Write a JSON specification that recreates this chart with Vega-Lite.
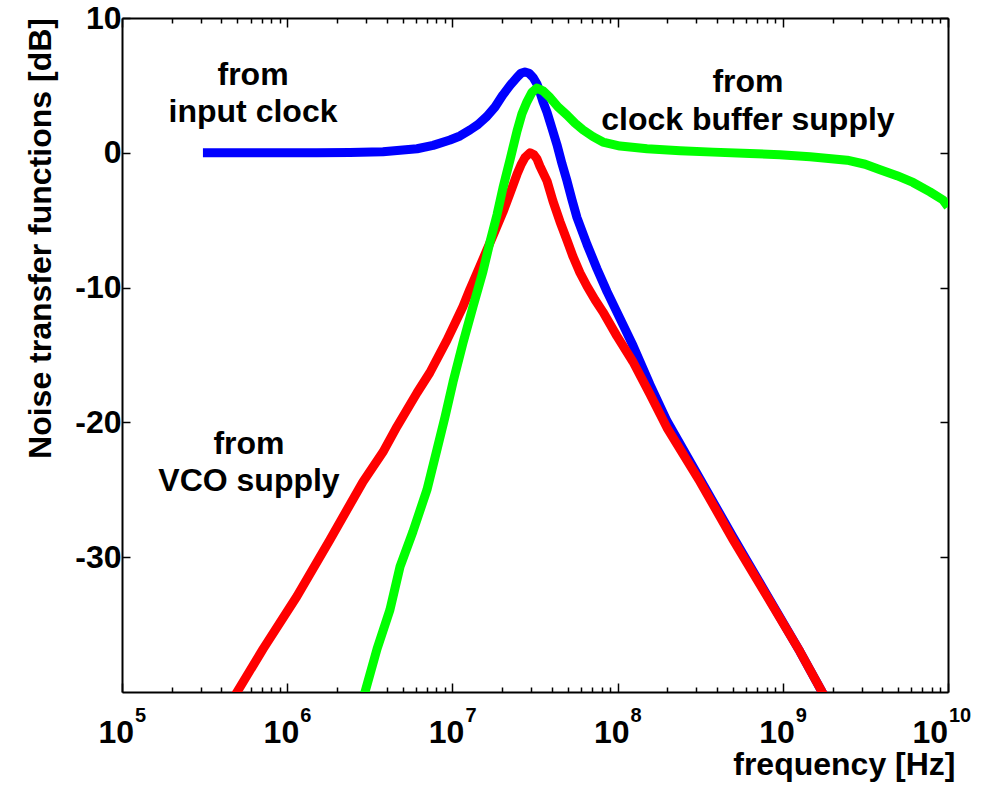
{
  "$schema": "https://vega.github.io/schema/vega-lite/v6.json",
  "width": 826,
  "height": 674,
  "autosize": "none",
  "padding": {"left": 122, "top": 18, "right": 54, "bottom": 93},
  "background": "white",
  "config": {
    "view": {"stroke": null},
    "font": "Liberation Sans",
    "axis": {
      "grid": false,
      "domainColor": "black",
      "domainWidth": 2,
      "tickColor": "black",
      "tickWidth": 1.5,
      "labelColor": "black",
      "titleColor": "black",
      "labelFont": "Liberation Sans",
      "titleFont": "Liberation Sans",
      "labelFontWeight": "bold",
      "titleFontWeight": "bold",
      "labelFontSize": 32,
      "titleFontSize": 32,
      "zindex": 1
    }
  },
  "datasets": {
    "curves": [
      {"s": "input", "f": 3.09e5, "db": 0},
      {"s": "input", "f": 5.96e5, "db": 0},
      {"s": "input", "f": 1.51e6, "db": 0},
      {"s": "input", "f": 2.40e6, "db": 0.03},
      {"s": "input", "f": 3.80e6, "db": 0.08},
      {"s": "input", "f": 6.11e6, "db": 0.3},
      {"s": "input", "f": 7.64e6, "db": 0.55},
      {"s": "input", "f": 9.66e6, "db": 0.95},
      {"s": "input", "f": 1.112e7, "db": 1.25},
      {"s": "input", "f": 1.279e7, "db": 1.7},
      {"s": "input", "f": 1.429e7, "db": 2.1},
      {"s": "input", "f": 1.618e7, "db": 2.7},
      {"s": "input", "f": 1.811e7, "db": 3.4},
      {"s": "input", "f": 2.023e7, "db": 4.3},
      {"s": "input", "f": 2.234e7, "db": 5.0},
      {"s": "input", "f": 2.46e7, "db": 5.6},
      {"s": "input", "f": 2.60e7, "db": 5.9},
      {"s": "input", "f": 2.748e7, "db": 6.0},
      {"s": "input", "f": 2.911e7, "db": 5.9},
      {"s": "input", "f": 3.076e7, "db": 5.6},
      {"s": "input", "f": 3.251e7, "db": 5.1},
      {"s": "input", "f": 3.388e7, "db": 4.5},
      {"s": "input", "f": 3.532e7, "db": 3.8},
      {"s": "input", "f": 3.741e7, "db": 3.0},
      {"s": "input", "f": 4.009e7, "db": 1.8},
      {"s": "input", "f": 4.295e7, "db": 0.6},
      {"s": "input", "f": 4.603e7, "db": -0.8},
      {"s": "input", "f": 4.943e7, "db": -2.1},
      {"s": "input", "f": 5.297e7, "db": -3.5},
      {"s": "input", "f": 5.675e7, "db": -4.8},
      {"s": "input", "f": 6.531e7, "db": -6.8},
      {"s": "input", "f": 7.499e7, "db": -8.6},
      {"s": "input", "f": 8.630e7, "db": -10.3},
      {"s": "input", "f": 1.035e8, "db": -12.3},
      {"s": "input", "f": 1.239e8, "db": -14.3},
      {"s": "input", "f": 1.570e8, "db": -17.2},
      {"s": "input", "f": 1.991e8, "db": -19.9},
      {"s": "input", "f": 3.155e8, "db": -24.2},
      {"s": "input", "f": 5.0e8, "db": -28.5},
      {"s": "input", "f": 8.02e8, "db": -32.8},
      {"s": "input", "f": 1.27e9, "db": -37.0},
      {"s": "input", "f": 1.73e9, "db": -40.0},
      {"s": "input", "f": 1.83e9, "db": -40.5},

      {"s": "vco", "f": 4.70e5, "db": -40.5},
      {"s": "vco", "f": 4.97e5, "db": -40.0},
      {"s": "vco", "f": 7.15e5, "db": -36.8},
      {"s": "vco", "f": 1.146e6, "db": -32.9},
      {"s": "vco", "f": 1.815e6, "db": -28.7},
      {"s": "vco", "f": 2.877e6, "db": -24.4},
      {"s": "vco", "f": 3.80e6, "db": -22.2},
      {"s": "vco", "f": 4.624e6, "db": -20.3},
      {"s": "vco", "f": 6.11e6, "db": -17.8},
      {"s": "vco", "f": 7.31e6, "db": -16.3},
      {"s": "vco", "f": 9.27e6, "db": -13.9},
      {"s": "vco", "f": 1.159e7, "db": -11.4},
      {"s": "vco", "f": 1.279e7, "db": -10.1},
      {"s": "vco", "f": 1.469e7, "db": -8.4},
      {"s": "vco", "f": 1.618e7, "db": -7.2},
      {"s": "vco", "f": 1.811e7, "db": -5.8},
      {"s": "vco", "f": 2.023e7, "db": -4.4},
      {"s": "vco", "f": 2.234e7, "db": -3.0},
      {"s": "vco", "f": 2.46e7, "db": -1.6},
      {"s": "vco", "f": 2.60e7, "db": -0.9},
      {"s": "vco", "f": 2.748e7, "db": -0.35},
      {"s": "vco", "f": 2.951e7, "db": 0.0},
      {"s": "vco", "f": 3.119e7, "db": -0.15},
      {"s": "vco", "f": 3.251e7, "db": -0.45},
      {"s": "vco", "f": 3.388e7, "db": -1.0},
      {"s": "vco", "f": 3.741e7, "db": -2.1},
      {"s": "vco", "f": 4.064e7, "db": -3.6},
      {"s": "vco", "f": 4.477e7, "db": -5.1},
      {"s": "vco", "f": 4.943e7, "db": -6.5},
      {"s": "vco", "f": 5.370e7, "db": -7.7},
      {"s": "vco", "f": 5.916e7, "db": -8.9},
      {"s": "vco", "f": 6.531e7, "db": -9.9},
      {"s": "vco", "f": 7.295e7, "db": -10.9},
      {"s": "vco", "f": 8.147e7, "db": -11.8},
      {"s": "vco", "f": 9.908e7, "db": -13.6},
      {"s": "vco", "f": 1.239e8, "db": -15.5},
      {"s": "vco", "f": 1.570e8, "db": -17.9},
      {"s": "vco", "f": 1.991e8, "db": -20.4},
      {"s": "vco", "f": 3.155e8, "db": -24.4},
      {"s": "vco", "f": 5.0e8, "db": -28.7},
      {"s": "vco", "f": 8.02e8, "db": -32.9},
      {"s": "vco", "f": 1.27e9, "db": -37.0},
      {"s": "vco", "f": 1.73e9, "db": -40.0},
      {"s": "vco", "f": 1.83e9, "db": -40.5},

      {"s": "buffer", "f": 2.84e6, "db": -40.5},
      {"s": "buffer", "f": 2.958e6, "db": -40.0},
      {"s": "buffer", "f": 3.499e6, "db": -36.8},
      {"s": "buffer", "f": 4.188e6, "db": -33.9},
      {"s": "buffer", "f": 4.82e6, "db": -30.7},
      {"s": "buffer", "f": 5.768e6, "db": -28.1},
      {"s": "buffer", "f": 7.015e6, "db": -25.0},
      {"s": "buffer", "f": 8.07e6, "db": -22.0},
      {"s": "buffer", "f": 9.02e6, "db": -19.6},
      {"s": "buffer", "f": 1.009e7, "db": -17.0},
      {"s": "buffer", "f": 1.159e7, "db": -14.1},
      {"s": "buffer", "f": 1.333e7, "db": -11.4},
      {"s": "buffer", "f": 1.531e7, "db": -8.8},
      {"s": "buffer", "f": 1.69e7, "db": -6.6},
      {"s": "buffer", "f": 1.862e7, "db": -4.6},
      {"s": "buffer", "f": 2.023e7, "db": -2.6},
      {"s": "buffer", "f": 2.234e7, "db": -0.5},
      {"s": "buffer", "f": 2.46e7, "db": 1.6},
      {"s": "buffer", "f": 2.636e7, "db": 2.9},
      {"s": "buffer", "f": 2.831e7, "db": 3.8},
      {"s": "buffer", "f": 3.034e7, "db": 4.5},
      {"s": "buffer", "f": 3.251e7, "db": 4.8},
      {"s": "buffer", "f": 3.532e7, "db": 4.6},
      {"s": "buffer", "f": 3.899e7, "db": 4.1},
      {"s": "buffer", "f": 4.355e7, "db": 3.4},
      {"s": "buffer", "f": 4.943e7, "db": 2.8},
      {"s": "buffer", "f": 5.521e7, "db": 2.2},
      {"s": "buffer", "f": 6.176e7, "db": 1.7},
      {"s": "buffer", "f": 7.096e7, "db": 1.2},
      {"s": "buffer", "f": 8.147e7, "db": 0.8},
      {"s": "buffer", "f": 1.035e8, "db": 0.5},
      {"s": "buffer", "f": 1.507e8, "db": 0.3},
      {"s": "buffer", "f": 2.39e8, "db": 0.15},
      {"s": "buffer", "f": 3.78e8, "db": 0.05},
      {"s": "buffer", "f": 6.32e8, "db": -0.05},
      {"s": "buffer", "f": 9.61e8, "db": -0.15},
      {"s": "buffer", "f": 1.462e9, "db": -0.3},
      {"s": "buffer", "f": 2.45e9, "db": -0.55},
      {"s": "buffer", "f": 3.15e9, "db": -0.85},
      {"s": "buffer", "f": 3.88e9, "db": -1.26},
      {"s": "buffer", "f": 4.91e9, "db": -1.7},
      {"s": "buffer", "f": 6.14e9, "db": -2.2},
      {"s": "buffer", "f": 7.78e9, "db": -2.9},
      {"s": "buffer", "f": 9.33e9, "db": -3.5},
      {"s": "buffer", "f": 1.0e10, "db": -4.0}
    ],
    "notes": [
      {"t": "from", "f": 6.21e5, "db": 5.04},
      {"t": "input clock", "f": 6.21e5, "db": 2.30},
      {"t": "from", "f": 6.15e8, "db": 4.52},
      {"t": "clock buffer supply", "f": 6.15e8, "db": 1.70},
      {"t": "from", "f": 5.87e5, "db": -22.37},
      {"t": "VCO supply", "f": 5.87e5, "db": -25.11}
    ],
    "xticks": [
      {"f": 1e5, "e": "5"},
      {"f": 1e6, "e": "6"},
      {"f": 1e7, "e": "7"},
      {"f": 1e8, "e": "8"},
      {"f": 1e9, "e": "9"},
      {"f": 1e10, "e": "10"}
    ]
  },
  "resolve": {"axis": {"x": "independent", "y": "independent"}},
  "layer": [
    {
      "data": {"name": "curves"},
      "transform": [{"filter": "datum.s === 'input'"}],
      "mark": {"type": "line", "color": "#0000ff", "strokeWidth": 9, "clip": true, "strokeJoin": "round"},
      "encoding": {
        "x": {
          "field": "f", "type": "quantitative",
          "scale": {"type": "log", "domain": [1e5, 1e10], "nice": false},
          "axis": {
            "orient": "bottom",
            "values": [1e5,2e5,3e5,4e5,5e5,6e5,7e5,8e5,9e5,1e6,2e6,3e6,4e6,5e6,6e6,7e6,8e6,9e6,1e7,2e7,3e7,4e7,5e7,6e7,7e7,8e7,9e7,1e8,2e8,3e8,4e8,5e8,6e8,7e8,8e8,9e8,1e9,2e9,3e9,4e9,5e9,6e9,7e9,8e9,9e9,1e10],
            "labels": false,
            "tickSize": {"condition": {"test": "abs(log(datum.value)/LN10 - round(log(datum.value)/LN10)) < 0.001", "value": -9}, "value": -5},
            "title": "frequency [Hz]",
            "titleAnchor": null,
            "titleAlign": "right",
            "titleBaseline": "alphabetic",
            "titleX": 833,
            "titleY": 82
          }
        },
        "y": {
          "field": "db", "type": "quantitative",
          "scale": {"domain": [-40, 10], "nice": false, "zero": false},
          "axis": {
            "orient": "left",
            "values": [-30, -20, -10, 0, 10],
            "labelExpr": "replace(datum.label, '\u2212', '-')",
            "tickSize": -8,
            "labelPadding": 9,
            "title": "Noise transfer functions [dB]",
            "titleAngle": -90,
            "titleAnchor": null,
            "titleAlign": "center",
            "titleBaseline": "alphabetic",
            "titleX": -72,
            "titleY": 220
          }
        }
      }
    },
    {
      "data": {"name": "curves"},
      "transform": [{"filter": "datum.s === 'vco'"}],
      "mark": {"type": "line", "color": "#ff0000", "strokeWidth": 9, "clip": true, "strokeJoin": "round"},
      "encoding": {
        "x": {"field": "f", "type": "quantitative", "scale": {"type": "log", "domain": [1e5, 1e10], "nice": false}, "axis": null},
        "y": {"field": "db", "type": "quantitative", "scale": {"domain": [-40, 10], "nice": false, "zero": false}, "axis": null}
      }
    },
    {
      "data": {"name": "curves"},
      "transform": [{"filter": "datum.s === 'buffer'"}],
      "mark": {"type": "line", "color": "#00ff00", "strokeWidth": 9, "clip": true, "strokeJoin": "round"},
      "encoding": {
        "x": {
          "field": "f", "type": "quantitative",
          "scale": {"type": "log", "domain": [1e5, 1e10], "nice": false},
          "axis": {
            "orient": "top",
            "values": [1e5,2e5,3e5,4e5,5e5,6e5,7e5,8e5,9e5,1e6,2e6,3e6,4e6,5e6,6e6,7e6,8e6,9e6,1e7,2e7,3e7,4e7,5e7,6e7,7e7,8e7,9e7,1e8,2e8,3e8,4e8,5e8,6e8,7e8,8e8,9e8,1e9,2e9,3e9,4e9,5e9,6e9,7e9,8e9,9e9,1e10],
            "labels": false,
            "tickSize": {"condition": {"test": "abs(log(datum.value)/LN10 - round(log(datum.value)/LN10)) < 0.001", "value": -9}, "value": -5},
            "title": null
          }
        },
        "y": {
          "field": "db", "type": "quantitative",
          "scale": {"domain": [-40, 10], "nice": false, "zero": false},
          "axis": {
            "orient": "right",
            "values": [-30, -20, -10, 0, 10],
            "tickSize": -8,
            "labels": false,
            "title": null
          }
        }
      }
    },
    {
      "data": {"name": "notes"},
      "mark": {"type": "text", "align": "center", "baseline": "alphabetic", "font": "Liberation Sans", "fontWeight": "bold", "fontSize": 32, "color": "black"},
      "encoding": {
        "x": {"field": "f", "type": "quantitative", "scale": {"type": "log", "domain": [1e5, 1e10], "nice": false}, "axis": null},
        "y": {"field": "db", "type": "quantitative", "scale": {"domain": [-40, 10], "nice": false, "zero": false}, "axis": null},
        "text": {"field": "t"}
      }
    },
    {
      "data": {"name": "xticks"},
      "transform": [{"filter": "datum.f < 5e9"}],
      "mark": {"type": "text", "align": "right", "baseline": "alphabetic", "dx": 12, "dy": 51, "font": "Liberation Sans", "fontWeight": "bold", "fontSize": 32, "color": "black"},
      "encoding": {
        "x": {"field": "f", "type": "quantitative", "scale": {"type": "log", "domain": [1e5, 1e10], "nice": false}, "axis": null},
        "y": {"datum": -40, "type": "quantitative", "scale": {"domain": [-40, 10], "nice": false, "zero": false}, "axis": null},
        "text": {"value": "10"}
      }
    },
    {
      "data": {"name": "xticks"},
      "transform": [{"filter": "datum.f < 5e9"}],
      "mark": {"type": "text", "align": "left", "baseline": "alphabetic", "dx": 13, "dy": 30, "font": "Liberation Sans", "fontWeight": "bold", "fontSize": 20, "color": "black"},
      "encoding": {
        "x": {"field": "f", "type": "quantitative", "scale": {"type": "log", "domain": [1e5, 1e10], "nice": false}, "axis": null},
        "y": {"datum": -40, "type": "quantitative", "scale": {"domain": [-40, 10], "nice": false, "zero": false}, "axis": null},
        "text": {"field": "e"}
      }
    },
    {
      "data": {"name": "xticks"},
      "transform": [{"filter": "datum.f > 5e9"}],
      "mark": {"type": "text", "align": "right", "baseline": "alphabetic", "dx": 0, "dy": 51, "font": "Liberation Sans", "fontWeight": "bold", "fontSize": 32, "color": "black"},
      "encoding": {
        "x": {"field": "f", "type": "quantitative", "scale": {"type": "log", "domain": [1e5, 1e10], "nice": false}, "axis": null},
        "y": {"datum": -40, "type": "quantitative", "scale": {"domain": [-40, 10], "nice": false, "zero": false}, "axis": null},
        "text": {"value": "10"}
      }
    },
    {
      "data": {"name": "xticks"},
      "transform": [{"filter": "datum.f > 5e9"}],
      "mark": {"type": "text", "align": "left", "baseline": "alphabetic", "dx": 1, "dy": 30, "font": "Liberation Sans", "fontWeight": "bold", "fontSize": 20, "color": "black"},
      "encoding": {
        "x": {"field": "f", "type": "quantitative", "scale": {"type": "log", "domain": [1e5, 1e10], "nice": false}, "axis": null},
        "y": {"datum": -40, "type": "quantitative", "scale": {"domain": [-40, 10], "nice": false, "zero": false}, "axis": null},
        "text": {"field": "e"}
      }
    }
  ]
}
